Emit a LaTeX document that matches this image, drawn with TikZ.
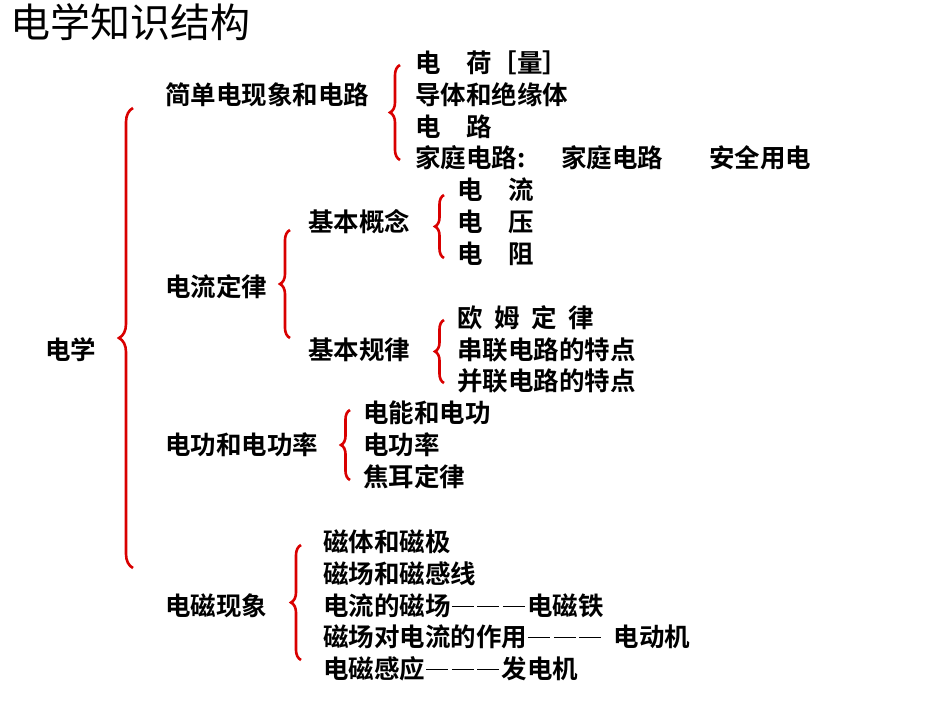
\documentclass[tikz,border=0pt]{standalone}
\usepackage{fontspec}
\setmainfont{Noto Sans CJK SC}
\newfontfamily\cjkb{Noto Sans CJK SC Bold}
\usetikzlibrary{decorations.pathreplacing}
\newcommand\dd{\hspace{0.05em}\rule[0.33em]{0.85em}{1.1pt}\hspace{0.1em}}
\begin{document}
\begin{tikzpicture}[x=1pt,y=-1pt,
  t/.style={anchor=west,inner sep=0pt,font=\cjkb\fontsize{25.5}{25.5}\selectfont},
  br/.style={draw=red!85!black,line width=2.6pt,decorate,decoration={brace,amplitude=#1}}]
\useasboundingbox (0,0) rectangle (950,713);
\node[anchor=west,inner sep=0pt,font=\fontsize{40}{40}\selectfont] (title) at (10,22) {电学知识结构};
\node[t] (dx) at (45,350) {电学};
\draw[br=14] (133,568) -- (133,108);
\node[t] (a) at (165,95) {简单电现象和电路};
\draw[br=10] (400,160) -- (400,65);
\node[t] (a1) at (415,63) {电　荷［量］};
\node[t] (a2) at (415,95) {导体和绝缘体};
\node[t] (a3) at (415,127) {电　路};
\node[t] (a4) at (415,158) {家庭电路:\hspace{1.4em}家庭电路\hspace{1.8em}安全用电};
\node[t] (b) at (165,287) {电流定律};
\draw[br=10] (290,338) -- (290,230);
\node[t] (b1) at (308,222) {基本概念};
\draw[br=9] (444,258) -- (444,195);
\node[t] (b11) at (457,190) {电　流};
\node[t] (b12) at (457,222) {电　压};
\node[t] (b13) at (457,254) {电　阻};
\node[t] (b2) at (308,350) {基本规律};
\draw[br=9] (444,383) -- (444,320);
\node[t] (b21) at (457,318) {欧\hspace{0.45em}姆\hspace{0.45em}定\hspace{0.45em}律};
\node[t] (b22) at (457,350) {串联电路的特点};
\node[t] (b23) at (457,381) {并联电路的特点};
\node[t] (c) at (165,445) {电功和电功率};
\draw[br=9] (350,480) -- (350,410);
\node[t] (c1) at (363,413) {电能和电功};
\node[t] (c2) at (363,445) {电功率};
\node[t] (c3) at (363,477) {焦耳定律};
\node[t] (d) at (165,606) {电磁现象};
\draw[br=10] (301,660) -- (301,545);
\node[t] (d1) at (323,542) {磁体和磁极};
\node[t] (d2) at (323,574) {磁场和磁感线};
\node[t] (d3) at (323,606) {电流的磁场\dd\dd\dd 电磁铁};
\node[t] (d4) at (323,637) {磁场对电流的作用\dd\dd\dd\hspace{0.4em}电动机};
\node[t] (d5) at (323,669) {电磁感应\dd\dd\dd 发电机};
\end{tikzpicture}
\end{document}
